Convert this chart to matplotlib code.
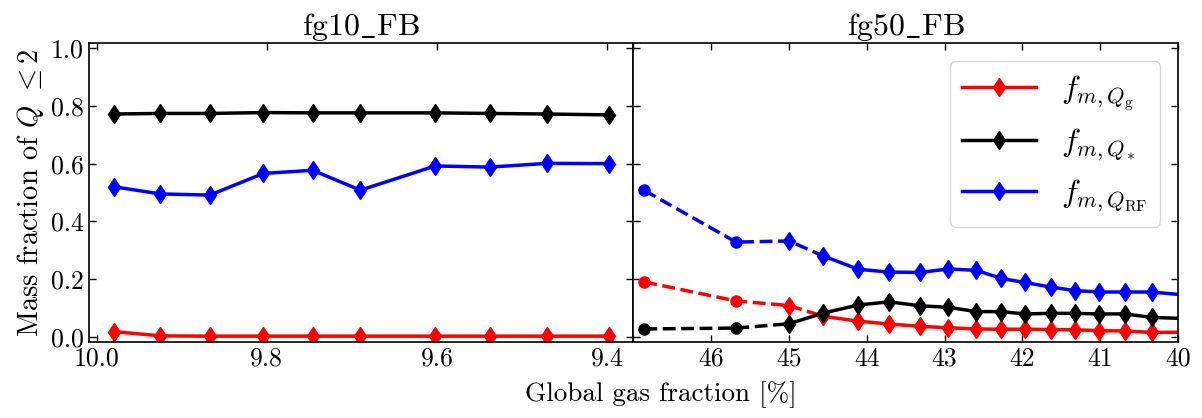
import matplotlib
matplotlib.use("Agg")
import matplotlib.pyplot as plt
from matplotlib.lines import Line2D
import matplotlib.mathtext as mtext

plt.rcParams.update({
    "font.family": "serif",
    "font.serif": ["cmr10"],
    "mathtext.fontset": "cm",
    "axes.formatter.use_mathtext": True,
    "axes.unicode_minus": False,
    "xtick.direction": "in",
    "ytick.direction": "in",
    "xtick.top": True,
    "ytick.right": True,
    "xtick.major.size": 5,
    "ytick.major.size": 5,
    "axes.linewidth": 1.2,
})

# ---------------- data ----------------
fg10_x = [9.980, 9.925, 9.867, 9.804, 9.746, 9.690, 9.602, 9.538, 9.470, 9.398]
fg10_g = [0.018, 0.003, 0.002, 0.002, 0.002, 0.002, 0.002, 0.002, 0.002, 0.002]
fg10_s = [0.772, 0.774, 0.774, 0.777, 0.776, 0.776, 0.776, 0.774, 0.772, 0.769]
fg10_rf = [0.520, 0.495, 0.491, 0.566, 0.577, 0.508, 0.592, 0.588, 0.601, 0.600]

fg50_x = [46.86, 45.68, 45.00, 44.56, 44.11, 43.71, 43.31, 42.95, 42.59, 42.27,
          41.97, 41.63, 41.33, 41.01, 40.68, 40.34, 39.67]
fg50_g = [0.190, 0.124, 0.108, 0.071, 0.054, 0.044, 0.036, 0.031, 0.027, 0.026,
          0.026, 0.025, 0.024, 0.021, 0.020, 0.015, 0.016]
fg50_s = [0.027, 0.030, 0.045, 0.082, 0.110, 0.121, 0.107, 0.102, 0.087, 0.087,
          0.079, 0.081, 0.081, 0.079, 0.079, 0.067, 0.061]
fg50_rf = [0.507, 0.328, 0.332, 0.280, 0.234, 0.224, 0.223, 0.235, 0.230, 0.202,
           0.188, 0.172, 0.160, 0.155, 0.155, 0.155, 0.139]

# index where the solid part starts (dashed before), per series
solid_start = {"g": 3, "s": 2, "rf": 3}
n_circle = 2  # first points drawn as circles

colors = {"g": "red", "s": "black", "rf": "blue"}
labels = {"g": r"$f_{m,Q_{\rm g}}$", "s": r"$f_{m,Q_*}$", "rf": r"$f_{m,Q_{\rm RF}}$"}

yticks = [0.0, 0.2, 0.4, 0.6, 0.8, 1.0]
fg10_ticks = [10.0, 9.8, 9.6, 9.4]
fg50_ticks = [47, 46, 45, 44, 43, 42, 41, 40]
fg50_ticklabels = ["", "46", "45", "44", "43", "42", "41", "40"]

LW = 2.5
MS_D = 9.5
MS_O = 8

# title text with underscore
def title_text(s):
    try:
        mtext.MathTextParser("path").parse(r"$\mathrm{a\_b}$")
        return r"$\mathrm{" + s.replace("_", r"\_") + "}$", {}
    except Exception:
        return s, {"family": "DejaVu Serif"}

fig, (ax1, ax2) = plt.subplots(1, 2, figsize=(12.02, 4.18), dpi=100, sharey=True)
fig.subplots_adjust(left=0.074, right=0.980, top=0.897, bottom=0.182, wspace=0.0)

# left panel
for key, y in (("g", fg10_g), ("s", fg10_s), ("rf", fg10_rf)):
    ax1.plot(fg10_x, y, "-", color=colors[key], lw=LW, marker="d", ms=MS_D)
ax1.invert_xaxis()
ax1.set_xticks(fg10_ticks)
ax1.set_xticklabels(["10.0", "9.8", "9.6", "9.4"])
ax1.set_ylim(-0.018, 1.018)
ax1.set_yticks(yticks)
ax1.set_yticklabels(["0.0", "0.2", "0.4", "0.6", "0.8", "1.0"])
ax1.set_ylabel(r"Mass fraction of $Q$ $\leq$2", fontsize=20.5, labelpad=4)
t, kw = title_text("fg10_FB")
ax1.set_title(t, fontsize=23, pad=5, **kw)

# right panel
for key, y in (("g", fg50_g), ("s", fg50_s), ("rf", fg50_rf)):
    k = solid_start[key]
    c = colors[key]
    ax2.plot(fg50_x[:k + 1], y[:k + 1], "--", color=c, lw=LW)
    ax2.plot(fg50_x[k:], y[k:], "-", color=c, lw=LW)
    ax2.plot(fg50_x[:n_circle], y[:n_circle], "o", color=c, ms=MS_O)
    ax2.plot(fg50_x[n_circle:], y[n_circle:], "d", color=c, ms=MS_D)
ax2.set_xlim(47, 40)
ax2.set_xticks(fg50_ticks)
ax2.set_xticklabels(fg50_ticklabels)
ax2.tick_params(axis="y", labelleft=False)
t, kw = title_text("fg50_FB")
ax2.set_title(t, fontsize=23, pad=5, **kw)

handles = [Line2D([], [], color=colors[k], lw=LW, marker="d", ms=MS_D) for k in ("g", "s", "rf")]
ax2.legend(handles, [labels[k] for k in ("g", "s", "rf")], loc="upper right",
           fontsize=23, handlelength=2.3, borderaxespad=0.55, labelspacing=0.45)

for ax in (ax1, ax2):
    ax.tick_params(labelsize=18.5, width=1.0)

fig.text(0.55, 0.025, "Global gas fraction [%]", ha="center", va="bottom", fontsize=19.5)

fig.savefig("out.png", dpi=100)
